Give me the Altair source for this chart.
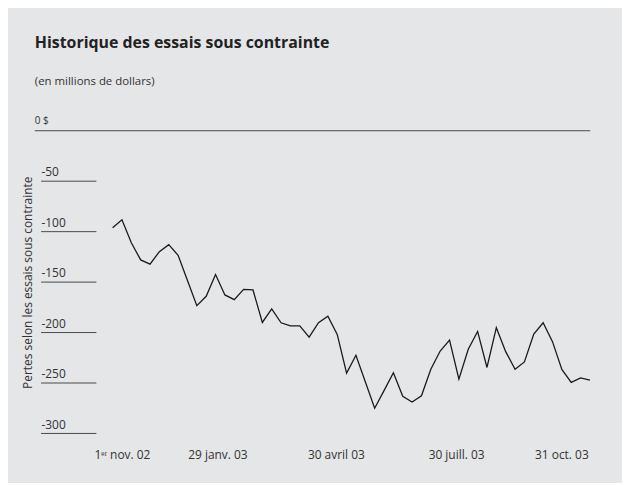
import altair as alt
import pandas as pd

# Weekly stress-test losses (millions of dollars)
values = [-96.2, -88.3, -111.0, -128.0, -132.2, -119.8, -112.9, -123.4, -148.4, -173.3,
          -164.1, -142.5, -162.7, -167.4, -157.2, -157.8, -190.0, -176.5, -190.3, -193.3,
          -193.3, -204.5, -190.3, -183.8, -201.8, -240.2, -222.5, -248.8, -275.0, -257.5,
          -239.9, -263.2, -268.8, -262.6, -236.3, -218.3, -207.4, -246.1, -216.6, -198.9,
          -234.6, -195.2, -218.9, -236.3, -229.1, -201.5, -190.3, -209.0, -236.6, -249.4,
          -244.9, -247.1]
weeks = list(range(len(values)))

x_tick_positions = [1.0, 11.2, 23.85, 36.7, 47.95]
x_tick_labels = ["1ᵉʳ nov. 02", "29 janv. 03", "30 avril 03", "30 juill. 03", "31 oct. 03"]

y_tick_values = [0, -50, -100, -150, -200, -250, -300]
y_tick_labels = ["0 $", "-50", "-100", "-150", "-200", "-250", "-300"]

FONT = "Open Sans"
BG = "#e5e6e8"

df = pd.DataFrame({"week": weeks, "value": values})
ticks = pd.DataFrame({"v": y_tick_values, "label": y_tick_labels})

# label expression built from the tick lists
expr = "''"
for pos, lab in reversed(list(zip(x_tick_positions, x_tick_labels))):
    expr = f"abs(datum.value - {pos}) < 0.01 ? '{lab}' : ({expr})"

xscale = alt.Scale(domain=[-8.31, 51.03], nice=False, zero=False)
yscale = alt.Scale(domain=[-300, 0], nice=False, zero=False)

y_axis = alt.Axis(title="Pertes selon les essais sous contrainte", labels=False, ticks=False,
                  domain=False, grid=False, titleFont=FONT, titleFontSize=12,
                  titleFontWeight="normal", titleColor="#333", titleAngle=270,
                  titleX=-7, titleY=152.5, titleAlign="center", titleBaseline="middle")

base_t = alt.Chart(ticks)

zero_rule = base_t.transform_filter("datum.v == 0").mark_rule(color="#4a4a4a", strokeWidth=1).encode(
    y=alt.Y("v:Q", scale=yscale, axis=y_axis),
    x=alt.value(0), x2=alt.value(559),
)
short_rules = base_t.transform_filter("datum.v != 0").mark_rule(color="#4a4a4a", strokeWidth=1).encode(
    y=alt.Y("v:Q", scale=yscale, axis=y_axis),
    x=alt.value(6.3), x2=alt.value(62),
)
zero_text = base_t.transform_filter("datum.v == 0").mark_text(
    align="left", baseline="alphabetic", dy=-7, font=FONT, fontSize=10, color="#333"
).encode(
    y=alt.Y("v:Q", scale=yscale, axis=y_axis),
    x=alt.value(0), text="label:N",
)
other_text = base_t.transform_filter("datum.v != 0").mark_text(
    align="left", baseline="alphabetic", dy=-5, font=FONT, fontSize=12, color="#333"
).encode(
    y=alt.Y("v:Q", scale=yscale, axis=y_axis),
    x=alt.value(6.7), text="label:N",
)

line = alt.Chart(df).mark_line(color="#1a1a1a", strokeWidth=1.3).encode(
    x=alt.X("week:Q", scale=xscale,
            axis=alt.Axis(values=x_tick_positions, labelExpr=expr, title=None, grid=False,
                          domain=False, ticks=False, labelFont=FONT, labelFontSize=12,
                          labelColor="#333", labelBaseline="alphabetic", labelPadding=25,
                          labelOverlap=False, labelFlush=False)),
    y=alt.Y("value:Q", scale=yscale, axis=y_axis),
)

chart = alt.layer(zero_rule, short_rules, zero_text, other_text, line).properties(
    width=559,
    height=304.7,
    padding={"left": 27, "top": 122, "right": 32, "bottom": 48},
    autosize=alt.AutoSizeParams(type="none"),
    background=BG,
    title=alt.TitleParams(
        text="Historique des essais sous contrainte",
        subtitle="(en millions de dollars)",
        anchor="start", frame="group", orient="top",
        font=FONT, fontSize=16, fontWeight="bold", color="#222",
        subtitleFont=FONT, subtitleFontSize=11.5, subtitleColor="#333",
        subtitlePadding=25, offset=29,
    ),
).configure_view(stroke=None)

chart.save("out.html", embed_options={"renderer": "svg", "actions": False})
